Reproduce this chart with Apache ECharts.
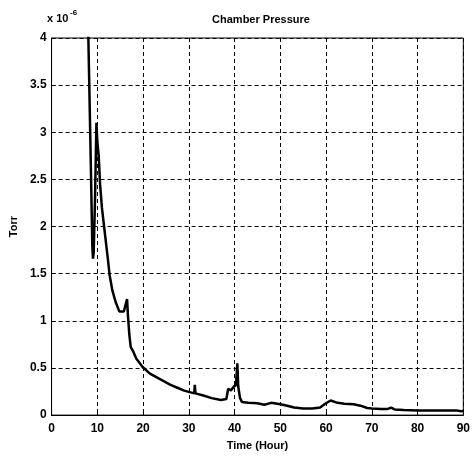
<!DOCTYPE html>
<html>
<head>
<meta charset="utf-8">
<script src="https://cdn.jsdelivr.net/npm/echarts@6/dist/echarts.min.js"></script>
<style>
  html, body { margin: 0; padding: 0; background: #fff; }
  #chart { width: 473px; height: 456px; }
</style>
</head>
<body>
<div id="chart"></div>
<script>
// Chamber pressure log, pressure in units of 1e-6 Torr
const hours = [7.8, 8.2, 8.6, 8.9, 9.05, 9.2, 9.5, 9.8, 10.0, 10.3, 10.6, 11.0, 11.6, 12.2, 12.7, 13.3, 14.0, 14.8, 15.2, 15.8, 16.2, 16.5, 16.7, 17.0, 17.3, 17.8, 18.5, 19.9, 21.5, 23, 24.5, 26, 27.5, 29, 31.2, 31.3, 31.45, 33, 35, 37, 38.2, 38.6, 39.2, 39.8, 40.3, 40.6, 40.8, 41.2, 41.6, 43, 45, 46.5, 48, 50, 51.5, 53, 55, 57, 58.7, 59.8, 61, 62.5, 64, 66, 67.5, 69, 70, 72, 73.5, 74.2, 75, 77, 80, 83, 86, 88.5, 89.5, 90];
const pressure = [4.6, 3.6, 2.6, 1.8, 1.66, 1.72, 2.3, 3.1, 2.9, 2.75, 2.45, 2.2, 1.95, 1.7, 1.48, 1.32, 1.2, 1.1, 1.08, 1.1, 1.08, 1.23, 1.05, 0.85, 0.72, 0.68, 0.6, 0.51, 0.44, 0.4, 0.36, 0.32, 0.29, 0.26, 0.23, 0.32, 0.23, 0.21, 0.18, 0.16, 0.17, 0.28, 0.26, 0.3, 0.32, 0.55, 0.3, 0.18, 0.14, 0.13, 0.125, 0.11, 0.13, 0.115, 0.1, 0.08, 0.07, 0.07, 0.08, 0.12, 0.155, 0.13, 0.12, 0.115, 0.1, 0.075, 0.07, 0.065, 0.065, 0.08, 0.06, 0.055, 0.05, 0.05, 0.05, 0.05, 0.04, 0.045];
const xTicks = [0, 10, 20, 30, 40, 50, 60, 70, 80, 90];
const yTicks = [0, 0.5, 1, 1.5, 2, 2.5, 3, 3.5, 4];

const font = 'Liberation Sans, Arial, sans-serif';
const chart = echarts.init(document.getElementById('chart'));

const axisCommon = {
  axisLine: { show: true, onZero: false, lineStyle: { color: '#000', width: 1 } },
  axisTick: { show: true, inside: true, length: 4, lineStyle: { color: '#000' } },
  splitLine: { show: true, lineStyle: { color: '#000', type: [4, 3], width: 1 } },
  axisLabel: { color: '#000', fontFamily: font, fontSize: 12, fontWeight: 'bold' }
};

chart.setOption({
  animation: false,
  backgroundColor: '#fff',
  title: {
    text: 'Chamber Pressure',
    left: 256, top: 9, textAlign: 'center',
    textStyle: { fontFamily: font, fontSize: 11, fontWeight: 'bold', color: '#000' }
  },
  graphic: [
    { type: 'text', left: 47, top: 13, style: { text: 'x 10', font: 'bold 11px ' + font, fill: '#000' } },
    { type: 'text', left: 70, top: 9, style: { text: '-6', font: 'bold 8px ' + font, fill: '#000' } }
  ],
  grid: { left: 48, right: 8, top: 38, bottom: 39, show: true, borderColor: '#000', borderWidth: 1 },
  xAxis: Object.assign({}, axisCommon, {
    type: 'value', min: 0, max: 90, interval: 10,
    name: 'Time (Hour)', nameLocation: 'middle', nameGap: 24,
    nameTextStyle: { fontFamily: font, fontSize: 11, fontWeight: 'bold', color: '#000' },
    axisLabel: Object.assign({}, axisCommon.axisLabel, {
      margin: 8,
      formatter: v => xTicks.includes(v) ? String(v) : ''
    })
  }),
  yAxis: Object.assign({}, axisCommon, {
    type: 'value', min: 0, max: 4, interval: 0.5,
    name: 'Torr', nameLocation: 'middle', nameGap: 30,
    nameTextStyle: { fontFamily: font, fontSize: 11, fontWeight: 'bold', color: '#000' },
    axisLabel: Object.assign({}, axisCommon.axisLabel, {
      margin: 5,
      formatter: v => yTicks.includes(v) ? String(v) : ''
    })
  }),
  series: [{
    type: 'line',
    data: hours.map((h, i) => [h, pressure[i]]),
    showSymbol: false,
    clip: true,
    lineStyle: { color: '#000', width: 2.5 }
  }]
});
</script>
</body>
</html>
